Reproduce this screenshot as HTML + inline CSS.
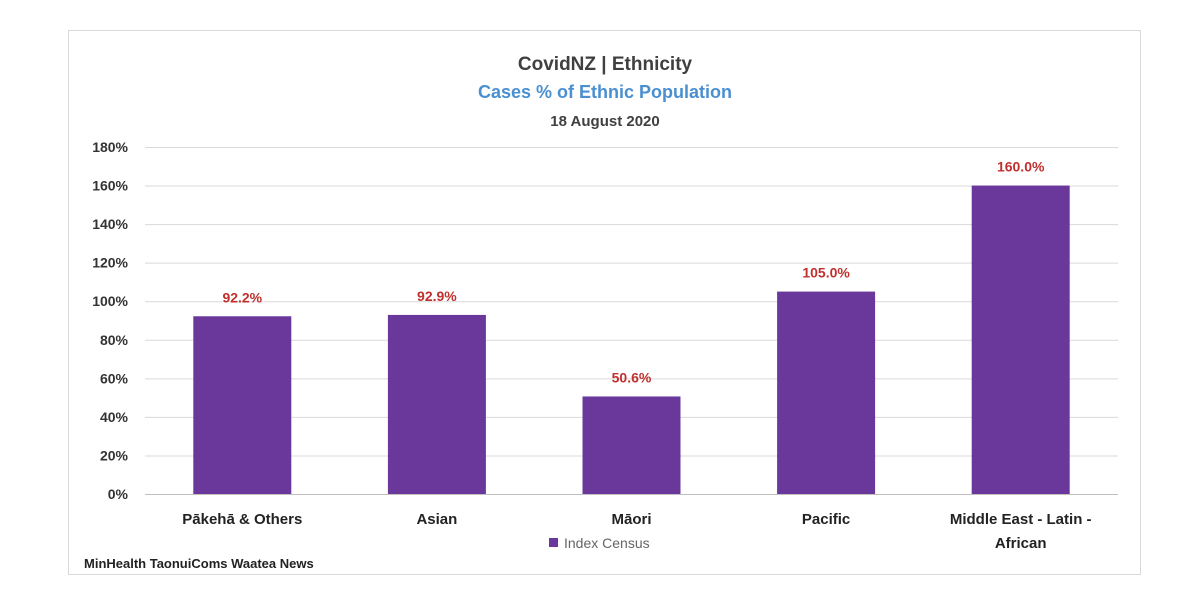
<!DOCTYPE html>
<html><head><meta charset="utf-8"><style>
body{margin:0;background:#fff;width:1200px;height:608px;overflow:hidden;font-family:"Liberation Sans",sans-serif}
</style></head><body>
<svg id="chart" width="1200" height="608" xmlns="http://www.w3.org/2000/svg" font-family="Liberation Sans, sans-serif">
<rect x="68.5" y="30.5" width="1072" height="544" fill="#fff" stroke="#d9d9d9"/>
<text x="605" y="70" text-anchor="middle" font-size="19" font-weight="bold" fill="#404040">CovidNZ | Ethnicity</text>
<text x="605" y="98" text-anchor="middle" font-size="18" font-weight="bold" fill="#4a8fd0">Cases % of Ethnic Population</text>
<text x="605" y="126" text-anchor="middle" font-size="15" font-weight="bold" fill="#404040">18 August 2020</text>
<g id="grid"></g><g id="bars"></g><g id="xl"></g>
<rect x="549" y="538" width="9" height="9" fill="#6a389a"/>
<text x="564" y="548" font-size="14" fill="#666">Index Census</text>
<text x="84" y="568" font-size="13" font-weight="bold" fill="#222">MinHealth TaonuiComs Waatea News</text>
</svg>
<script>
const categories=[["Pākehā  & Others"],["Asian"],["Māori"],["Pacific"],["Middle East - Latin -","African"]];
const values=[92.2,92.9,50.6,105.0,160.0];
const ticks=[0,20,40,60,80,100,120,140,160,180];
const ns="http://www.w3.org/2000/svg";
const x0=145,x1=1118,y0=494,y1=147,max=180;
const y=v=>y0-(v/max)*(y0-y1);
const band=(x1-x0)/categories.length;
const bx=i=>x0+band*i+band/2;
function mk(t,a,p){const e=document.createElementNS(ns,t);for(const k in a)e.setAttribute(k,a[k]);p.appendChild(e);return e;}
const g=document.getElementById('grid'),b=document.getElementById('bars'),xl=document.getElementById('xl');
ticks.forEach(t=>{
 const l=mk('line',{x1:x0,x2:x1,y1:y(t)+.5,y2:y(t)+.5,stroke:t===0?'#bfbfbf':'#d9d9d9'},g);
 
 
 const tx=mk('text',{x:128,y:y(t)+5,'text-anchor':'end','font-size':14,'font-weight':'bold',fill:'#333'},g);
 tx.textContent=t+'%';
 
 
});
values.forEach((v,i)=>{
 const w=98;
 const r=mk('rect',{x:bx(i)-w/2,y:y(v),width:w,height:y0-y(v),fill:'#6a389a'},b);
 
 
 const lb=mk('text',{x:bx(i),y:y(v)-14,'text-anchor':'middle','font-size':14,'font-weight':'bold',fill:'#c0302e'},b);
 lb.textContent=v.toFixed(1)+'%';
 
 
 categories[i].forEach((s,j)=>{
  const t=mk('text',{x:bx(i),y:524+j*24,'text-anchor':'middle','font-size':15,'font-weight':'bold',fill:'#222'},xl);
  t.textContent=s;
  
  
 });
});
</script>
</body></html>
